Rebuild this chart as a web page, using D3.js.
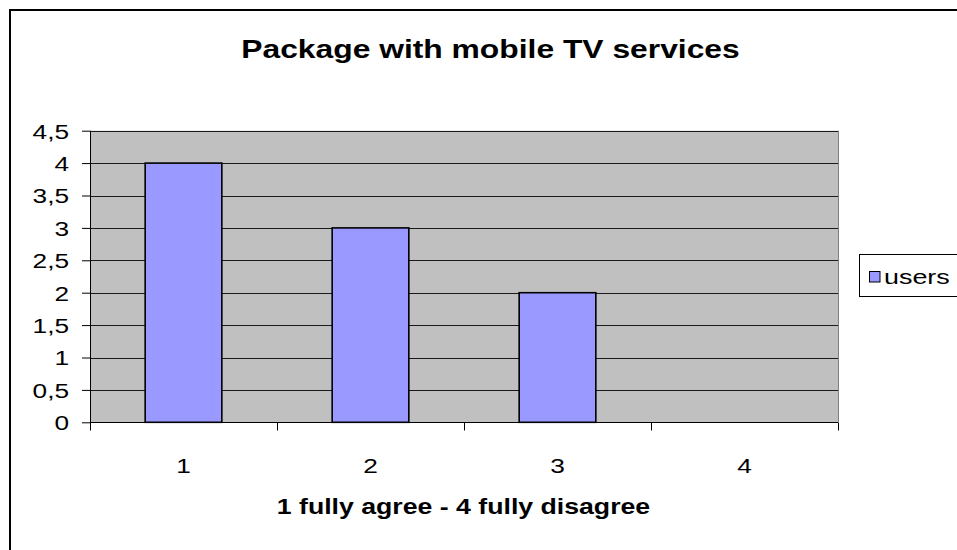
<!DOCTYPE html>
<html>
<head>
<meta charset="utf-8">
<script src="https://cdn.jsdelivr.net/npm/d3@7"></script>
<style>
  html, body { margin: 0; padding: 0; background: #fff; }
  svg { display: block; font-family: "Liberation Sans", Arial, sans-serif; }
</style>
</head>
<body>
<svg id="chart" width="957" height="550"></svg>
<script>
// Survey answers: how many users chose each level of agreement
const categories = ["1", "2", "3", "4"];
const users = [4, 3, 2, 0];
const yTicks = [0, 0.5, 1, 1.5, 2, 2.5, 3, 3.5, 4, 4.5];
const seriesName = "users";
const titleText = "Package with mobile TV services";
const xTitleText = "1 fully agree - 4 fully disagree";

const FONT = "'Liberation Sans', Arial, sans-serif";
const svg = d3.select("#chart");
const plot = { left: 90, right: 838, top: 130.7, bottom: 422.3 };

// widen glyphs horizontally by a factor (the chart uses a wide sans face)
function widen(sel, factor) {
  sel.each(function () {
    const w = this.getComputedTextLength();
    d3.select(this).attr("textLength", w * factor).attr("lengthAdjust", "spacingAndGlyphs");
  });
}

// outer chart border
svg.append("rect")
  .attr("x", 10).attr("y", 10)
  .attr("width", 960).attr("height", 560)
  .attr("fill", "#fff").attr("stroke", "#000").attr("stroke-width", 2);

const x = d3.scaleBand().domain(categories).range([plot.left, plot.right]).paddingInner(0.59).paddingOuter(0.295);
const xCat = d3.scaleBand().domain(categories).range([plot.left, plot.right]);
const y = d3.scaleLinear().domain([0, 4.5]).range([plot.bottom, plot.top]);

// plot area
svg.append("rect")
  .attr("x", plot.left).attr("y", plot.top)
  .attr("width", plot.right - plot.left).attr("height", plot.bottom - plot.top)
  .attr("fill", "#C0C0C0");

// horizontal gridlines
svg.append("g").selectAll("line").data(yTicks.filter(d => d > 0)).join("line")
  .attr("x1", plot.left).attr("x2", plot.right)
  .attr("y1", d => Math.round(y(d)) + 0.5).attr("y2", d => Math.round(y(d)) + 0.5)
  .attr("stroke", "#1a1a1a").attr("stroke-width", 1);

// right edge of plot area
svg.append("line")
  .attr("x1", plot.right + 0.5).attr("x2", plot.right + 0.5)
  .attr("y1", plot.top).attr("y2", plot.bottom)
  .attr("stroke", "#808080").attr("stroke-width", 1);

// bars
svg.append("g").selectAll("rect").data(users.map((v, i) => ({ c: categories[i], v }))).join("rect")
  .filter(d => d.v > 0)
  .attr("x", d => x(d.c)).attr("width", x.bandwidth())
  .attr("y", d => y(d.v)).attr("height", d => y(0) - y(d.v))
  .attr("fill", "#9999FF").attr("stroke", "#000").attr("stroke-width", 1.6);

// y axis
const yAxis = d3.axisLeft(y).tickValues(yTicks).tickSize(8).tickPadding(13)
  .tickFormat(d => String(d).replace(".", ","));
const gy = svg.append("g").attr("transform", `translate(${plot.left},0)`).call(yAxis);
gy.attr("font-size", null).attr("font-family", null);
gy.selectAll(".tick line").attr("stroke", "#000");
gy.select(".domain").attr("stroke", "#000").attr("d", `M0.5,${plot.top}V${plot.bottom}`);
gy.selectAll("text").attr("font-size", 20.5).attr("fill", "#000").attr("font-family", FONT)
  .attr("dy", "0.36em");
widen(gy.selectAll("text"), 1.28);

// x axis with ticks at category boundaries
const gx = svg.append("g").attr("transform", `translate(0,${Math.round(plot.bottom) + 0.5})`);
gx.append("line").attr("x1", plot.left).attr("x2", plot.right).attr("stroke", "#000");
const bounds = d3.range(categories.length + 1).map(i => plot.left + i * xCat.step());
gx.selectAll("line.tk").data(bounds).join("line").attr("class", "tk")
  .attr("x1", d => Math.round(d) + 0.5).attr("x2", d => Math.round(d) + 0.5)
  .attr("y1", 0).attr("y2", 8).attr("stroke", "#000");
const xl = gx.selectAll("text").data(categories).join("text")
  .attr("x", d => xCat(d) + xCat.bandwidth() / 2).attr("y", 50)
  .attr("text-anchor", "middle").attr("font-size", 20.5).attr("font-family", FONT).text(d => d);
widen(xl, 1.28);

// titles
const t = svg.append("text").attr("x", 490.5).attr("y", 57.5).attr("text-anchor", "middle")
  .attr("font-size", 26.5).attr("font-weight", "bold").attr("font-family", FONT).text(titleText);
widen(t, 1.2);
const xt = svg.append("text").attr("x", 463.5).attr("y", 513.5).attr("text-anchor", "middle")
  .attr("font-size", 21.5).attr("font-weight", "bold").attr("font-family", FONT).text(xTitleText);
widen(xt, 1.24);

// legend
const lg = svg.append("g");
lg.append("rect").attr("x", 859.5).attr("y", 254.5).attr("width", 120).attr("height", 42)
  .attr("fill", "#fff").attr("stroke", "#000").attr("stroke-width", 1);
lg.append("rect").attr("x", 869.5).attr("y", 271.5).attr("width", 10.5).attr("height", 10.5)
  .attr("fill", "#9999FF").attr("stroke", "#000").attr("stroke-width", 1);
const lt = lg.append("text").attr("x", 884).attr("y", 283.5).attr("font-size", 21)
  .attr("font-family", FONT).text(seriesName);
widen(lt, 1.28);
</script>
</body>
</html>
